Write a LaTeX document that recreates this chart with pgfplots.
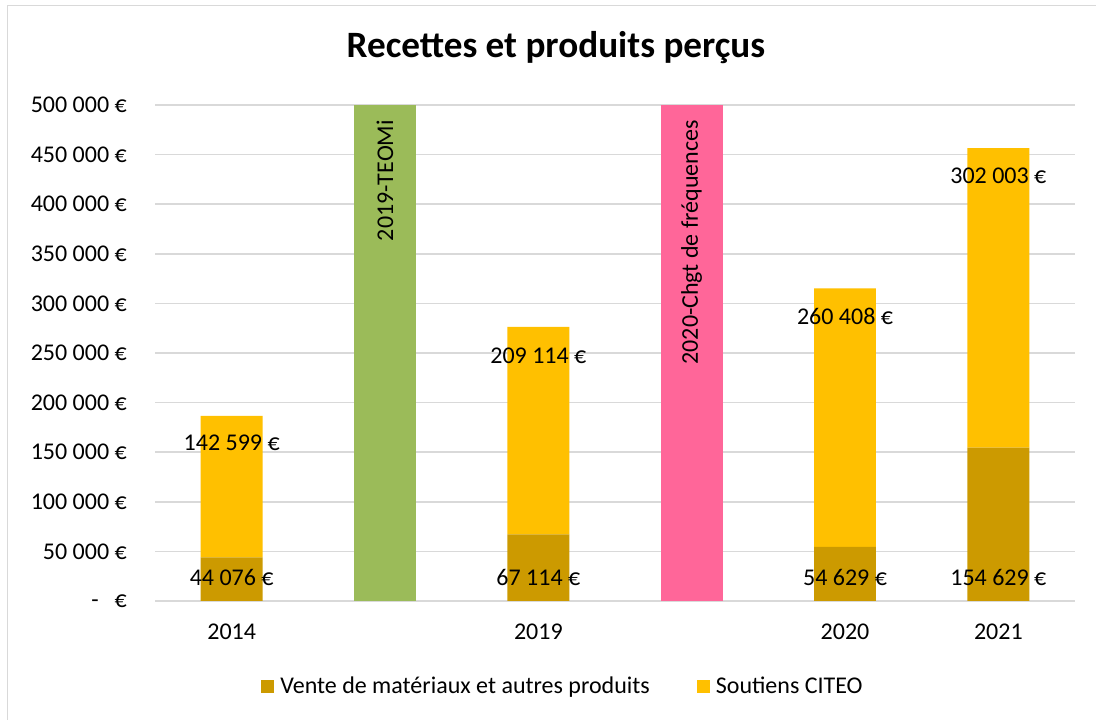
\documentclass[border=0pt]{standalone}
\usepackage{fontspec}
\setmainfont{Carlito}
\usepackage{pgfplots}
\pgfplotsset{compat=1.18}
\definecolor{cDark}{HTML}{CC9A00}
\definecolor{cYel}{HTML}{FFC000}
\definecolor{cGreen}{HTML}{9BBB59}
\definecolor{cPink}{HTML}{FF6699}
\definecolor{cGrid}{HTML}{D9D9D9}
\newcommand{\fs}{\fontsize{24bp}{28bp}\selectfont}
\begin{document}
\begin{tikzpicture}
\useasboundingbox (0,0) rectangle (1096bp,720bp);
\fill[white] (0,0) rectangle (1096bp,720bp);
\draw[cGrid, line width=1.5bp] (7.5bp,0) -- (7.5bp,714.5bp) -- (1096bp,714.5bp);
\node[anchor=base, inner sep=0pt, font=\fontsize{37.2bp}{41bp}\selectfont\bfseries] at (556bp,662bp) {Recettes et produits perçus};
\begin{axis}[
  at={(155bp,119bp)}, anchor=south west,
  width=920bp, height=496bp, scale only axis,
  xmin=-0.5, xmax=5.5, ymin=0, ymax=500000,
  ybar stacked, bar width=0.404,
  axis line style={draw=none},
  major tick length=0pt,
  scaled y ticks=false,
  ymajorgrids, grid style={cGrid, line width=1.5bp},
  ytick={0,50000,100000,150000,200000,250000,300000,350000,400000,450000,500000},
  yticklabels={{-\hspace{16bp}€},{50 000 €},{100 000 €},{150 000 €},{200 000 €},{250 000 €},{300 000 €},{350 000 €},{400 000 €},{450 000 €},{500 000 €}},
  xtick={0,1,2,3,4,5},
  xticklabels={2014,,2019,,2020,2021},
  /pgf/number format/assume math mode=true,
  tick label style={font=\fs},
  yticklabel style={anchor=east, inner sep=0pt, xshift=-28bp},
  xticklabel style={anchor=center, inner sep=0pt, yshift=-31bp},
  legend columns=2,
  legend image code/.code={\fill[#1] (0bp,-6.5bp) rectangle (13bp,6.5bp);},
  legend style={draw=none, fill=none, at={(0.4424,-0.1714)}, anchor=center,
    font=\fs, nodes={inner sep=0pt},
    /tikz/every odd column/.append style={column sep=6bp},
    /tikz/every even column/.append style={column sep=47bp}},
]
\addplot[fill=cDark, draw=none] coordinates {(0,44076) (1,0) (2,67114) (3,0) (4,54629) (5,154629)};
\addplot[fill=cYel, draw=none] coordinates {(0,142599) (1,0) (2,209114) (3,0) (4,260408) (5,302003)};
\addplot[fill=cGreen, draw=none] coordinates {(0,0) (1,500000) (2,0) (3,0) (4,0) (5,0)};
\addplot[fill=cPink, draw=none] coordinates {(0,0) (1,0) (2,0) (3,500000) (4,0) (5,0)};
\legend{Vente de matériaux et autres produits, Soutiens CITEO}
\end{axis}
\begin{axis}[
  at={(155bp,119bp)}, anchor=south west,
  width=920bp, height=496bp, scale only axis,
  xmin=-0.5, xmax=5.5, ymin=0, ymax=500000,
  hide axis, clip=false, scaled y ticks=false,
]
\addplot[only marks, mark=*, mark size=0pt, mark options={draw=none, fill=none, draw opacity=0, fill opacity=0}, nodes near coords, point meta=explicit symbolic,
  every node near coord/.append style={anchor=center, inner sep=0pt, font=\fs, opacity=1, text opacity=1}]
  coordinates {(0,24194) [44 076 €] (2,24194) [67 114 €] (4,24194) [54 629 €] (5,24194) [154 629 €]
               (0,159274) [142 599 €] (2,246976) [209 114 €] (4,287298) [260 408 €] (5,428427) [302 003 €]};
\addplot[only marks, mark=*, mark size=0pt, mark options={draw=none, fill=none, draw opacity=0, fill opacity=0}, nodes near coords, point meta=explicit symbolic,
  every node near coord/.append style={rotate=90, anchor=east, inner sep=0pt, font=\fs, opacity=1, text opacity=1}]
  coordinates {(1,485000) [2019-TEOMi] (3,485000) [2020-Chgt de fréquences]};
\end{axis}
\end{tikzpicture}
\end{document}
